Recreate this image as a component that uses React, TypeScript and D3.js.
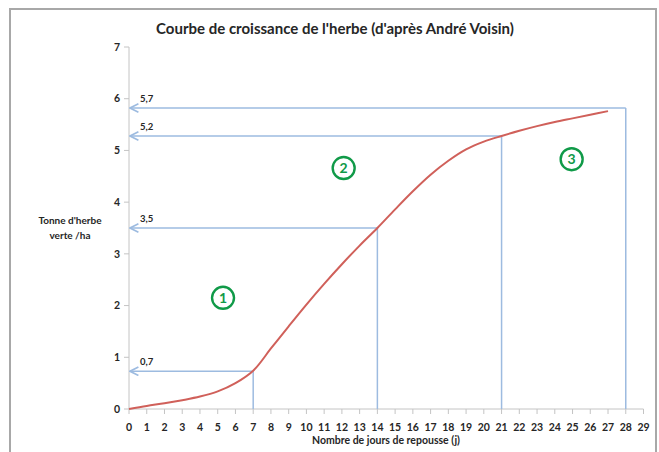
import * as React from 'react';
import * as d3 from 'd3';

// growth curve (day -> t of green grass / ha)
const days = d3.range(0, 28);
const yieldValues = [0, 0.06, 0.11, 0.17, 0.24, 0.34, 0.5, 0.74, 1.17, 1.6, 2.02, 2.42, 2.8, 3.16, 3.5,
    3.86, 4.21, 4.53, 4.8, 5.02, 5.17, 5.28, 5.38, 5.47, 5.55, 5.62, 5.69, 5.76];

// reference guides: vertical at a day, arrow back to the y axis
const guideDays = [7, 14, 21, 28];
const guideLevels = [0.73, 3.5, 5.28, 5.82];
const guideLabels = ['0,7', '3,5', '5,2', '5,7'];

// circled phase numbers
const phaseLabels = ['1', '2', '3'];
const phaseX = [5.3, 12.1, 24.95];
const phaseY = [2.15, 4.66, 4.83];

const xTicks = d3.range(0, 30);
const yTicks = d3.range(0, 8);

const title = "Courbe de croissance de l'herbe (d'après André Voisin)";
const xTitle = 'Nombre de jours de repousse (j)';
const yTitle = ["Tonne d'herbe", 'verte /ha'];

const W = 659;
const H = 452;
const font = 'Lato, "Open Sans", sans-serif';
const guideColor = '#9dbbe0';
const axisColor = '#c4c4c4';
const textColor = '#262626';

export default function App() {
    const x = d3.scaleLinear().domain([0, 29]).range([129, 643.5]);
    const y = d3.scaleLinear().domain([0, 7]).range([409, 47]);

    const line = d3.line<number>()
        .x((d, i) => x(days[i]))
        .y((d) => y(d))
        .curve(d3.curveCatmullRom.alpha(0.5));

    return (
        <svg width={W} height={H} style={{position: 'absolute', left: 0, top: 0}} fontFamily={font}>
            <defs>
                <marker id='arr' viewBox='0 0 10 10' refX='9' refY='5' markerWidth='7' markerHeight='7' orient='auto'>
                    <path d='M1,1 L9,5 L1,9' fill='none' stroke={guideColor} strokeWidth='1.6' />
                </marker>
            </defs>
            <rect x={0} y={0} width={W} height={H} fill='white' />
            <rect x={10} y={9} width={646} height={460} fill='none' stroke='#a8a8a8' strokeWidth={2} />

            <text x={335} y={34} textAnchor='middle' fontWeight='bold' fontSize={15} fill={textColor}>{title}</text>

            <g className='y-axis'>
                <line x1={x(0)} x2={x(0)} y1={y(7)} y2={y(0)} stroke={axisColor} />
                {yTicks.map((t) => (
                    <g key={t} transform={`translate(0,${y(t)})`}>
                        <line x1={x(0) - 5} x2={x(0)} stroke={axisColor} />
                        <text x={x(0) - 9} dy='0.35em' textAnchor='end' fontSize={10.5} fontWeight='bold' fill={textColor}>{t}</text>
                    </g>
                ))}
            </g>
            <g className='x-axis'>
                <line x1={x(0)} x2={x(29)} y1={y(0)} y2={y(0)} stroke={axisColor} />
                {xTicks.map((t) => (
                    <g key={t} transform={`translate(${x(t)},${y(0)})`}>
                        <line y1={0} y2={5} stroke={axisColor} />
                        <text y={22} textAnchor='middle' fontSize={10.5} fontWeight='bold' fill={textColor}>{t}</text>
                    </g>
                ))}
            </g>
            <text x={386} y={444} textAnchor='middle' fontSize={10.5} fontWeight='bold' fill={textColor}>{xTitle}</text>
            {yTitle.map((s, i) => (
                <text key={s} x={70} y={224 + i * 15} textAnchor='middle' fontSize={10} fontWeight='bold' fill={textColor}>{s}</text>
            ))}

            <g className='guides' stroke={guideColor} strokeWidth={1.5} fill='none'>
                {guideDays.map((d, i) => (
                    <g key={d}>
                        <line x1={x(d)} x2={x(d)} y1={y(0)} y2={y(guideLevels[i])} />
                        <line x1={x(d)} x2={x(0) + 1} y1={y(guideLevels[i])} y2={y(guideLevels[i])} markerEnd='url(#arr)' />
                    </g>
                ))}
            </g>
            {guideLabels.map((s, i) => (
                <text key={s} x={x(0) + 11} y={y(guideLevels[i]) - 6} fontSize={9.5} fontWeight='bold' fill={textColor}>{s}</text>
            ))}

            <path d={line(yieldValues) || ''} fill='none' stroke='#d0605a' strokeWidth={2} />

            {phaseLabels.map((s, i) => (
                <g key={s} transform={`translate(${x(phaseX[i])},${y(phaseY[i])})`}>
                    <circle r={11} fill='white' stroke='#109a48' strokeWidth={2.4} />
                    <text dy='0.36em' textAnchor='middle' fontSize={14} fontWeight='bold' fill='#109a48'>{s}</text>
                </g>
            ))}
        </svg>
    );
}
